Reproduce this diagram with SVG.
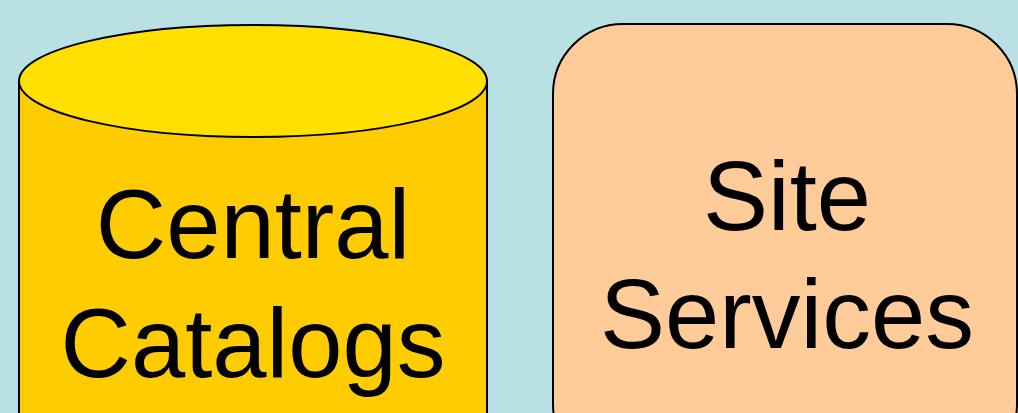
<svg xmlns="http://www.w3.org/2000/svg" width="1018" height="413" viewBox="0 0 1018 413">
<style>
.lbl{font-family:"Liberation Sans",Arial,sans-serif;font-size:97.5px;fill:#000;text-anchor:middle}
.ol{stroke:#000;stroke-width:2}
</style>
<rect x="0" y="0" width="1018" height="413" fill="#B9E0E3"/>
<g id="central-catalogs">
<path class="ol" d="M19,81 L19,440 L487,440 L487,81" fill="#FFCC00"/>
<ellipse class="ol" cx="253" cy="81" rx="234" ry="56" fill="#FFE000"/>
<text class="lbl" x="253" y="258">Central</text>
<text class="lbl" x="253" y="377">Catalogs</text>
</g>
<g id="site-services">
<rect class="ol" x="553" y="24" width="464" height="450" rx="70" ry="70" fill="#FFCC99"/>
<text class="lbl" x="787" y="230">Site</text>
<text class="lbl" x="787" y="348">Services</text>
</g>
<g id="connectors"></g>
</svg>
